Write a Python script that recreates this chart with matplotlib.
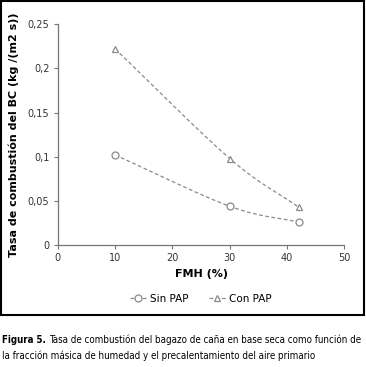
import numpy as np
import matplotlib.pyplot as plt
from matplotlib.patches import Rectangle

fmh = [10, 30, 42]
sin_pap = [0.102, 0.044, 0.026]
con_pap = [0.222, 0.098, 0.043]
xticks = [0, 10, 20, 30, 40, 50]
yticks = [0, 0.05, 0.1, 0.15, 0.2, 0.25]
ytick_labels = ['0', '0,05', '0,1', '0,15', '0,2', '0,25']


def smooth(x, y, n=40):
    # curva suavizada tipo Excel (Catmull-Rom)
    x = np.asarray(x, float)
    y = np.asarray(y, float)
    px = np.concatenate([[2 * x[0] - x[1]], x, [2 * x[-1] - x[-2]]])
    py = np.concatenate([[2 * y[0] - y[1]], y, [2 * y[-1] - y[-2]]])
    xs, ys = [], []
    t = np.linspace(0, 1, n)
    for i in range(1, len(px) - 2):
        for p, out in ((px, xs), (py, ys)):
            p0, p1, p2, p3 = p[i - 1], p[i], p[i + 1], p[i + 2]
            out.extend(0.5 * (2 * p1 + (-p0 + p2) * t
                              + (2 * p0 - 5 * p1 + 4 * p2 - p3) * t ** 2
                              + (-p0 + 3 * p1 - 3 * p2 + p3) * t ** 3))
    return xs, ys


fig = plt.figure(figsize=(3.66, 3.67), dpi=100)
ax = fig.add_axes([0.158, 0.332, 0.783, 0.602])

gris = '#8a8a8a'
for y, m, lab in ((sin_pap, 'o', 'Sin PAP'), (con_pap, '^', 'Con PAP')):
    sx, sy = smooth(fmh, y)
    ax.plot(sx, sy, color=gris, lw=0.9, ls=(0, (3, 2)))
    ax.plot(fmh, y, ls='none', marker=m, ms=5, mfc='white', mec=gris, mew=0.9)
    ax.plot([], [], color=gris, lw=0.9, ls=(0, (3, 2)), marker=m, ms=5,
            mfc='white', mec=gris, mew=0.9, label=lab)

ax.set_xlim(0, 50)
ax.set_ylim(0, 0.25)
ax.set_xticks(xticks)
ax.set_yticks(yticks)
ax.set_yticklabels(ytick_labels)
ax.tick_params(labelsize=7, length=3, width=0.8, color='#777777', pad=3,
               labelcolor='#333333')
for s in ('top', 'right'):
    ax.spines[s].set_visible(False)
for s in ('left', 'bottom'):
    ax.spines[s].set_color('#777777')
    ax.spines[s].set_linewidth(0.9)

ax.set_xlabel('FMH (%)', fontsize=8, fontweight='bold', labelpad=4)
ax.set_ylabel('Tasa de combustión del BC (kg /(m2 s))', fontsize=8,
              fontweight='bold', labelpad=6)

fig.legend(loc='center', bbox_to_anchor=(0.548, 0.185), ncol=2, frameon=False,
           fontsize=7.5, handlelength=1.6, columnspacing=2.0, handletextpad=0.3)

fig.patches.append(Rectangle((0.004, 0.142), 0.99, 0.855, transform=fig.transFigure,
                             fill=False, ec='black', lw=1.5))

# pie de figura con fuente condensada
fig.text(0.006, 0.074, 'Figura 5.', fontsize=6.9, fontweight='bold',
         family='DejaVu Sans', stretch='condensed', va='center')
fig.text(0.134, 0.074, 'Tasa de combustión del bagazo de caña en base seca como función de',
         fontsize=7.0, family='DejaVu Sans', stretch='condensed', va='center')
fig.text(0.006, 0.030, 'la fracción másica de humedad y el precalentamiento del aire primario',
         fontsize=7.0, family='DejaVu Sans', stretch='condensed', va='center')

fig.savefig('out.png', dpi=100)
